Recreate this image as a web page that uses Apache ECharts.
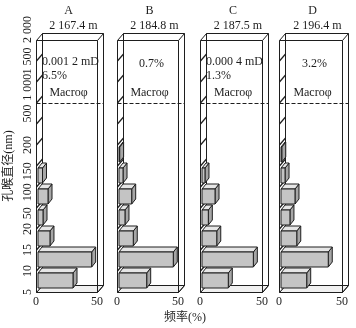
<!DOCTYPE html>
<html>
<head>
<meta charset="utf-8">
<script src="https://cdn.jsdelivr.net/npm/echarts@6/dist/echarts.min.js"></script>
<style>
html, body { margin: 0; padding: 0; background: #fff; }
#chart { width: 356px; height: 328px; }
</style>
</head>
<body>
<div id="chart"></div>
<script>
// panel headers and notes
const PANELS = ['A', 'B', 'C', 'D'];
const DEPTHS = ['2 167.4 m', '2 184.8 m', '2 187.5 m', '2 196.4 m'];
const PERM = ['0.001 2 mD', '', '0.000 4 mD', ''];
const MACRO_PORO = ['6.5%', '0.7%', '1.3%', '3.2%'];

// pore-throat diameter bins, bottom to top (nm)
const BINS = ['5-10', '10-15', '15-20', '20-50', '50-100', '100-150', '150-200',
  '200-500', '500-1000', '1000-1500', '1500-2000', '>2000'];
// frequency (%) per bin
const FREQ_A = [28.7, 44.0, 9.8, 4.1, 8.2, 3.7, 0, 0, 0, 0, 0, 0];
const FREQ_B = [22.7, 44.5, 11.7, 4.9, 10.4, 3.3, 0.5, 0, 0, 0, 0, 0];
const FREQ_C = [21.2, 41.4, 11.9, 5.1, 10.5, 2.4, 0, 0, 0, 0, 0, 0];
const FREQ_D = [20.4, 37.5, 12.5, 7.1, 11.1, 3.2, 0.6, 0, 0, 0, 0, 0];
const FREQS = [FREQ_A, FREQ_B, FREQ_C, FREQ_D];

// y tick labels and the axis values where they sit
const Y_LABEL_VALUES = [0, 1, 2, 3, 3.75, 4.75, 5.75, 7, 8.5, 9.75, 11, 12.5];
const Y_LABELS = ['5', '10', '15', '20', '50', '100', '150', '200', '500', '1 000', '1 500', '2 000'];
const X_TICKS = [0, 50];

const BOX_TOP = 12;       // top of the plot box, in bins
const MACRO_LINE = 9;     // dashed line (1 000 nm)
const X_MAX = 50;
const DX = 6, DY = 7;     // box depth
const BDX = 4, BDY = 5;   // bar depth

const SERIF = "'Liberation Serif', 'Noto Sans CJK SC', serif";
const INK = '#1e1e1e';

const gridLeft = [36, 117, 200, 279];
const gridWidth = [61, 61, 62, 63];

const chart = echarts.init(document.getElementById('chart'), null, { renderer: 'canvas' });

function px(v) { return Math.round(v) + 0.5; }

function ln(x1, y1, x2, y2, extra) {
  return {
    type: 'line',
    shape: { x1: x1, y1: y1, x2: x2, y2: y2 },
    style: Object.assign({ stroke: INK, lineWidth: 1 }, extra || {})
  };
}

function renderFrame(params, api) {
  const a = api.coord([0, 0]);
  const b = api.coord([X_MAX, BOX_TOP]);
  const x0 = px(a[0]), yB = px(a[1]), x1 = px(b[0]), yT = px(b[1]);
  const ch = [];
  // back wall
  ch.push({ type: 'rect', shape: { x: x0 + DX, y: yT - DY, width: x1 - x0, height: yB - yT },
    style: { fill: '#fff', stroke: INK, lineWidth: 1 } });
  // floor
  ch.push({ type: 'polygon', shape: { points: [[x0, yB], [x1, yB], [x1 + DX, yB - DY], [x0 + DX, yB - DY]] },
    style: { fill: '#f0f0f0', stroke: INK, lineWidth: 1 } });
  // left wall
  ch.push({ type: 'polygon', shape: { points: [[x0, yB], [x0 + DX, yB - DY], [x0 + DX, yT - DY], [x0, yT]] },
    style: { fill: '#fff', stroke: INK, lineWidth: 1 } });
  // slanted ticks on left wall
  for (let i = 1; i < BOX_TOP; i++) {
    const y = api.coord([0, i])[1];
    ch.push(ln(x0, y, x0 + DX, y - DY, { lineWidth: 1.2 }));
  }
  // front edges of the box
  ch.push(ln(x0, yT, x1, yT));
  ch.push(ln(x1, yT, x1, yB));
  ch.push(ln(x1, yT, x1 + DX, yT - DY));
  ch.push(ln(x1, yB, x1 + DX, yB - DY));
  // macro-pore boundary
  const ym = px(api.coord([0, MACRO_LINE])[1]);
  ch.push(ln(x0, ym, x1 + DX, ym, { lineDash: [4, 2] }));
  return { type: 'group', children: ch };
}

function renderBar(params, api) {
  const v = api.value(0);
  const i = api.value(1);
  if (!(v > 0)) return null;
  const p0 = api.coord([0, i]);
  const p1 = api.coord([v, i + 1]);
  const xL = p0[0] + 2, xR = p1[0] + 2;
  const yBot = p0[1] - 4, yTop = p1[1] + 2;
  const st = { stroke: INK, lineWidth: 1, lineJoin: 'round' };
  return {
    type: 'group',
    children: [
      { type: 'polygon', shape: { points: [[xR, yTop], [xR + BDX, yTop - BDY], [xR + BDX, yBot - BDY], [xR, yBot]] },
        style: Object.assign({ fill: '#a6a6a6' }, st) },
      { type: 'polygon', shape: { points: [[xL, yTop], [xR, yTop], [xR + BDX, yTop - BDY], [xL + BDX, yTop - BDY]] },
        style: Object.assign({ fill: '#e6e6e6' }, st) },
      { type: 'rect', shape: { x: xL, y: yTop, width: xR - xL, height: yBot - yTop },
        style: Object.assign({ fill: '#c4c4c4' }, st) }
    ]
  };
}

const grids = [], xAxes = [], yAxes = [], series = [], graphics = [];

function note(x, y, text, align, size) {
  return { type: 'text', x: x, y: y, z: 100,
    style: { text: text, font: (size || 12) + 'px ' + SERIF, fill: INK, align: align || 'center', verticalAlign: 'middle' } };
}

PANELS.forEach(function (name, k) {
  grids.push({ left: gridLeft[k], width: gridWidth[k], top: 29.5, height: 262.5 });
  xAxes.push({
    type: 'value', gridIndex: k, min: 0, max: X_MAX, interval: 50,
    axisLine: { show: false }, axisTick: { show: false }, splitLine: { show: false },
    axisLabel: { margin: 4, color: INK, fontFamily: SERIF, fontSize: 12,
      formatter: function (v) { return X_TICKS.indexOf(v) >= 0 ? String(v) : ''; } }
  });
  yAxes.push({
    type: 'value', gridIndex: k, min: 0, max: 12.5, interval: 0.25,
    axisLine: { show: false }, axisTick: { show: false }, splitLine: { show: false },
    axisLabel: {
      show: k === 0, rotate: 90, margin: 2, color: INK, fontFamily: SERIF, fontSize: 12,
      formatter: function (v) {
        const j = Y_LABEL_VALUES.indexOf(v);
        return j >= 0 ? Y_LABELS[j] : '';
      }
    }
  });
  series.push({
    type: 'custom', xAxisIndex: k, yAxisIndex: k, silent: true, z: 1,
    renderItem: renderFrame, data: [[0, 0]], encode: { x: 0, y: 1 }
  });
  series.push({
    type: 'custom', name: name, xAxisIndex: k, yAxisIndex: k, z: 2,
    renderItem: renderBar, encode: { x: 0, y: 1 },
    data: FREQS[k].map(function (f, i) { return [f, i, BINS[i]]; })
  });

  const cx = gridLeft[k] + gridWidth[k] / 2 + 4;
  graphics.push(note(cx - 2, 11, name));
  graphics.push(note(cx + 3, 26, DEPTHS[k]));
  if (PERM[k]) {
    graphics.push(note(gridLeft[k] + 6, 62, PERM[k], 'left'));
    graphics.push(note(gridLeft[k] + 6, 76, MACRO_PORO[k], 'left'));
  } else {
    graphics.push(note(cx, 64, MACRO_PORO[k]));
  }
  graphics.push(note(cx - 2, 93, 'Macroφ'));
});

graphics.push({ type: 'text', x: 9, y: 166, rotation: Math.PI / 2, z: 100,
  style: { text: '孔喉直径(nm)', font: '12px ' + SERIF, fill: INK, align: 'center', verticalAlign: 'middle' } });
graphics.push(note(185, 318, '频率(%)'));

chart.setOption({
  animation: false,
  backgroundColor: '#fff',
  grid: grids,
  xAxis: xAxes,
  yAxis: yAxes,
  series: series,
  graphic: graphics
});
</script>
</body>
</html>
